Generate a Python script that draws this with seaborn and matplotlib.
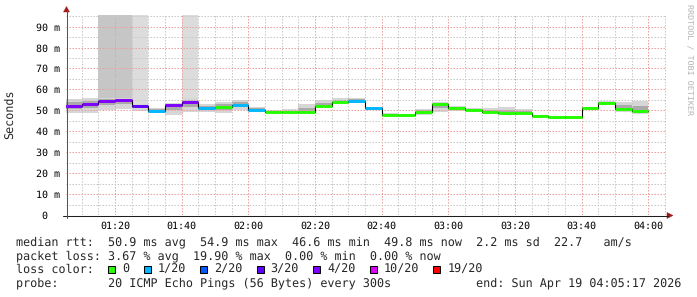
import matplotlib
matplotlib.use("Agg")
import numpy as np
import pandas as pd
import seaborn as sns
import matplotlib.pyplot as plt
import matplotlib.dates as mdates
from matplotlib.transforms import IdentityTransform
from matplotlib.patches import Polygon, Rectangle
from matplotlib.lines import Line2D

# ---------------- data ----------------
first_step = "2026-04-19 01:05"
end_time = "2026-04-19 04:05:17"
step_minutes = 5
span_hours = 3

median_ms = [52.2, 53.2, 54.6, 54.9, 52.0, 49.9, 52.4, 54.2, 50.9, 51.5,
             52.7, 50.4, 49.2, 49.2, 49.2, 52.0, 53.8, 54.7, 50.9, 48.0,
             47.6, 49.3, 52.9, 51.2, 50.3, 49.3, 48.9, 48.9, 47.3, 46.6,
             46.8, 51.2, 53.7, 50.6, 49.8]
smoke_lo_ms = [48.8, 48.8, 50.3, 50.7, 49.8, 48.8, 47.9, 49.4, 49.3, 48.5,
               50.1, 49.6, 48.5, 48.5, 48.5, 50.9, 53.1, 53.3, 50.1, 47.5,
               46.9, 48.0, 49.0, 49.9, 49.6, 48.6, 48.7, 48.3, 46.8, 46.0,
               46.0, 50.7, 53.1, 49.4, 48.3]
smoke_hi_ms = [55.5, 55.9, 55.9, 55.9, 53.0, 51.1, 53.5, 55.9, 52.8, 54.1,
               54.9, 51.7, 50.1, 50.6, 52.8, 54.9, 55.7, 56.0, 51.7, 48.5,
               48.3, 50.7, 54.1, 52.2, 50.9, 51.1, 51.8, 50.6, 48.0, 47.5,
               47.3, 51.8, 54.6, 54.2, 54.4]
loss_count = [4, 4, 4, 4, 3, 1, 4, 4, 1, 0,
              1, 1, 0, 0, 0, 0, 0, 1, 1, 0,
              0, 0, 0, 0, 0, 0, 0, 0, 0, 0,
              0, 0, 0, 0, 0]
loss_bg = [0, 0, 2, 2, 1, 0, 0, 1, 0, 0,
           0, 0, 0, 0, 0, 0, 0, 0, 0, 0,
           0, 0, 0, 0, 0, 0, 0, 0, 0, 0,
           0, 0, 0, 0, 0]

loss_levels = [0, 1, 2, 3, 4, 10, 19]
loss_colors = ["#26ff00", "#00b8ff", "#0059ff", "#5e00ff", "#7e00ff", "#dd00ff", "#ff0000"]
loss_labels = ["0", "1/20", "2/20", "3/20", "4/20", "10/20", "19/20"]

ytick_vals = [0, 10, 20, 30, 40, 50, 60, 70, 80, 90]
ytick_labels = ["0  ", "10 m", "20 m", "30 m", "40 m", "50 m", "60 m", "70 m", "80 m", "90 m"]
y_top = 95.7

line_rtt = "median rtt:  50.9 ms avg  54.9 ms max  46.6 ms min  49.8 ms now  2.2 ms sd  22.7   am/s"
line_loss = "packet loss: 3.67 % avg  19.90 % max  0.00 % min  0.00 % now"
line_probe = "probe:       20 ICMP Echo Pings (56 Bytes) every 300s            end: Sun Apr 19 04:05:17 2026"

# ---------------- figure ----------------
sns.set_theme(style="white")
plt.rcParams['font.family'] = ['DejaVu Sans Mono', 'DejaVu Sans']
plt.rcParams['text.hinting'] = 'no_hinting'

W, H = 697, 297
fig = plt.figure(figsize=(W / 100, H / 100), dpi=100)
fig.patch.set_facecolor("white")
ax = fig.add_axes([66 / W, (H - 215) / H, 600 / W, (215 - 14.7) / H])
ax.set_facecolor("white")

times = pd.date_range(first_step, periods=len(median_ms), freq=f"{step_minutes}min")
ends = times + pd.Timedelta(minutes=step_minutes)
t_ext = list(times) + [ends[-1]]

med = np.array(median_ms)
lo = np.array(smoke_lo_ms)
hi = np.array(smoke_hi_ms)
ext = lambda a: np.append(a, a[-1])

# loss background bars (from median up to top)
bg_cols = {1: "#dcdcdc", 2: "#c6c6c6"}
for t0, t1, m, b in zip(times, ends, med, loss_bg):
    if b:
        ax.fill_between([t0, t1], [m, m], [y_top, y_top], color=bg_cols[b], lw=0, zorder=0.6)

# smoke
ax.fill_between(t_ext, ext(lo), ext(hi), step="post", color="#d6d6d6", lw=0, zorder=0.8)
in_lo = med - 0.5 * (med - lo)
in_hi = med + 0.5 * (hi - med)
ax.fill_between(t_ext, ext(in_lo), ext(in_hi), step="post", color="#aaaaaa", lw=0, zorder=0.9)

# median step line (black connectors)
df = pd.DataFrame({"time": t_ext, "median": ext(med)})
sns.lineplot(data=df, x="time", y="median", drawstyle="steps-post", color="black",
             lw=0.8, ax=ax, zorder=3)

# coloured median segments by loss
def loss_color(n):
    c = loss_colors[0]
    for lv, col in zip(loss_levels, loss_colors):
        if n >= lv:
            c = col
    return c

seg_cols = [loss_color(n) for n in loss_count]
ax.hlines(med, times, ends, colors=seg_cols, lw=2.1, zorder=4)

# axes scaling
t_end = pd.Timestamp(end_time)
ax.set_xlim(t_end - pd.Timedelta(hours=span_hours), t_end)
ax.set_ylim(0, y_top)
ax.set_xlabel("")
ax.set_ylabel("")

ax.xaxis.set_major_locator(mdates.MinuteLocator(byminute=[0, 20, 40]))
ax.xaxis.set_minor_locator(mdates.MinuteLocator(byminute=list(range(0, 60, 5))))
ax.xaxis.set_major_formatter(mdates.DateFormatter("%H:%M"))
ax.set_yticks(ytick_vals)
ax.set_yticklabels(ytick_labels)
ax.set_yticks(np.arange(5, y_top, 10), minor=True)

dots = (0, (1.5, 1.5))
ax.set_axisbelow("line")
ax.grid(which="minor", color="#c9c9c9", ls=dots, lw=0.72)
ax.grid(which="major", color="#eba0a0", ls=dots, lw=0.72)
ax.tick_params(which="both", length=0)
ax.tick_params(axis="x", labelsize=7.2, pad=4.5, colors="black")
ax.tick_params(axis="y", labelsize=7.2, pad=4.0, colors="black")
for s in ax.spines.values():
    s.set_visible(False)

# axis lines and arrows (pixel coords)
idt = IdentityTransform()
ax_col = "#1e1e1e"
fig.add_artist(Line2D([63, 668], [H - 215.5, H - 215.5], color=ax_col, lw=0.75, transform=idt))
fig.add_artist(Line2D([66.5, 66.5], [H - 218, H - 10], color="#555555", lw=0.75, transform=idt))
arrow_col = "#a01818"
fig.add_artist(Polygon([[667, H - 212.5], [667, H - 218.5], [673, H - 215.5]], closed=True,
                       facecolor=arrow_col, edgecolor=arrow_col, lw=0.3, transform=idt))
fig.add_artist(Polygon([[63.5, H - 12], [69.5, H - 12], [66.5, H - 6.5]], closed=True,
                       facecolor=arrow_col, edgecolor=arrow_col, lw=0.3, transform=idt))

# labels
fs = 8.45
adv = 7.07  # monospace advance in px
x0 = 16

def ftext(x, y, s, **kw):
    fig.text(x / W, 1 - y / H, s, fontsize=kw.pop("fontsize", fs), **kw)

ftext(10, 114, "Seconds", rotation=90, ha="center", va="center")
ftext(689, 60, "RRDTOOL / TOBI OETIKER", rotation=270, ha="center", va="center",
      fontsize=6, color="#b5b5b5")

base = [245.5, 259.2, 272.9, 286.6]
ftext(x0, base[0], line_rtt, va="baseline")
ftext(x0, base[1], line_loss, va="baseline")
ftext(x0, base[2], "loss color:", va="baseline")
col = 13
for c, s in zip(loss_colors, loss_labels):
    bx = x0 + col * adv
    fig.add_artist(Rectangle((bx + 0.3, H - 273), 7, 7, facecolor=c, edgecolor="black",
                             lw=0.75, transform=idt))
    ftext(x0 + (col + 2) * adv, base[2], s, va="baseline")
    col += 2 + len(s) + 2
ftext(x0, base[3], line_probe, va="baseline")

fig.savefig("out.png", dpi=100, facecolor="white")
